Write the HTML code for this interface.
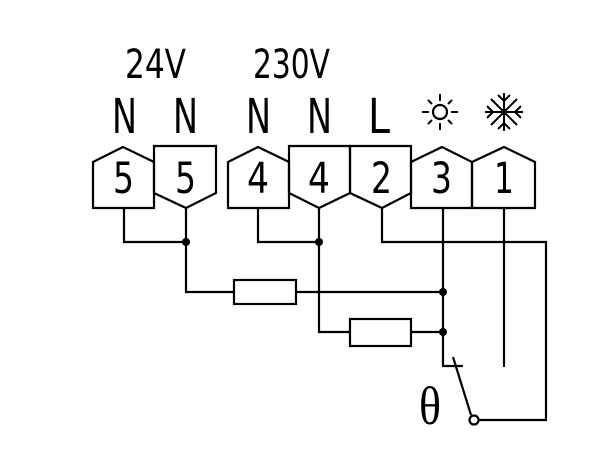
<!DOCTYPE html>
<html><head><style>html,body{margin:0;padding:0;background:#fff}svg{display:block}</style></head>
<body>
<svg width="600" height="455" viewBox="0 0 600 455" xmlns="http://www.w3.org/2000/svg">
<g font-family="DejaVu Sans, Liberation Sans, sans-serif" font-weight="normal" fill="#000">
<text x="125" y="78" font-size="40" textLength="61" lengthAdjust="spacingAndGlyphs">24V</text>
<text x="253" y="78" font-size="40" textLength="77" lengthAdjust="spacingAndGlyphs">230V</text>
<text x="112" y="133" font-size="48" textLength="25" lengthAdjust="spacingAndGlyphs">N</text>
<text x="173" y="133" font-size="48" textLength="25" lengthAdjust="spacingAndGlyphs">N</text>
<text x="246" y="133" font-size="48" textLength="25" lengthAdjust="spacingAndGlyphs">N</text>
<text x="307" y="133" font-size="48" textLength="25" lengthAdjust="spacingAndGlyphs">N</text>
<text x="368" y="133" font-size="48" textLength="22" lengthAdjust="spacingAndGlyphs">L</text>
<text x="113" y="193" font-size="43" textLength="21" lengthAdjust="spacingAndGlyphs">5</text>
<text x="175" y="193" font-size="43" textLength="21" lengthAdjust="spacingAndGlyphs">5</text>
<text x="247" y="193" font-size="43" textLength="22" lengthAdjust="spacingAndGlyphs">4</text>
<text x="308" y="193" font-size="43" textLength="22" lengthAdjust="spacingAndGlyphs">4</text>
<text x="371" y="193" font-size="43" textLength="21" lengthAdjust="spacingAndGlyphs">2</text>
<text x="431" y="193" font-size="43" textLength="21" lengthAdjust="spacingAndGlyphs">3</text>
<text x="494" y="193" font-size="43" textLength="20" lengthAdjust="spacingAndGlyphs">1</text>
<text x="419" y="424" font-size="54" font-family="Liberation Serif, serif" textLength="22" lengthAdjust="spacingAndGlyphs">θ</text>
</g>
<g fill="none" stroke="#000" stroke-width="2.2">
<path d="M93,162 L123,147 L154,162 L154,208 L93,208 Z"/>
<path d="M154,146 L216,146 L216,193 L186,208 L154,193 Z"/>
<path d="M228,162 L258,147 L289,162 L289,208 L228,208 Z"/>
<path d="M289,146 L350,146 L350,193 L319,208 L289,193 Z"/>
<path d="M350,146 L411,146 L411,193 L382,208 L350,193 Z"/>
<path d="M411,162 L442,147 L472,162 L472,208 L411,208 Z"/>
<path d="M472,162 L504,147 L535,162 L535,208 L472,208 Z"/>
<path d="M124,208 V242 H186 M186,208 V292 H234 M296,292 H443"/>
<path d="M258,208 V242 H319 M319,208 V332 H350 M411,332 H443"/>
<path d="M382,208 V242 H546 V420 H478"/>
<path d="M443,208 V366 H463"/>
<path d="M453,357 L471,415"/>
<path d="M504,208 V367"/>
<rect x="234" y="280" width="62" height="24"/>
<rect x="350" y="319" width="61" height="27"/>
<circle cx="474" cy="420" r="4.5" fill="#fff"/>
<circle cx="440" cy="112" r="7"/>
<path d="M440,94 V101 M440,123 V130 M422,112 H429 M451,112 H458 M428,100 L432,104 M448,120 L452,124 M452,100 L448,104 M428,124 L432,120" stroke-width="2"/>
<path d="M504,93 V131 M485,112 H523 M491,99 L517,125 M517,99 L491,125 M498,95 L504,101 L510,95 M498,129 L504,123 L510,129 M487,106 L493,112 L487,118 M521,106 L515,112 L521,118" stroke-width="2"/>
</g>
<g fill="#000">
<circle cx="186" cy="242" r="4"/>
<circle cx="319" cy="242" r="4"/>
<circle cx="443" cy="292" r="4"/>
<circle cx="443" cy="332" r="4"/>
</g>
</svg>
</body></html>
